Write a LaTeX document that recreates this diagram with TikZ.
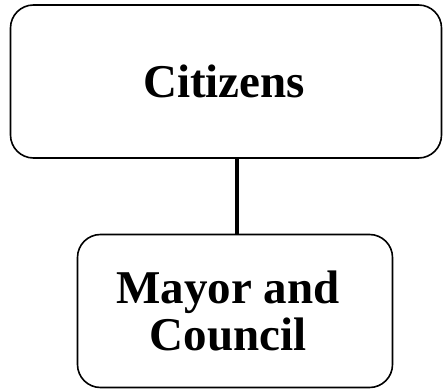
\documentclass[tikz,border=0pt]{standalone}
\usepackage{fontspec}
\setmainfont{Liberation Serif}
\begin{document}
\begin{tikzpicture}[x=1pt,y=1pt,
  box/.style={draw=black, line width=1.6pt, rounded corners=23pt, inner sep=0pt,
    minimum width=#1},
  boxtext/.style={font=\fontsize{47}{47}\selectfont\bfseries, align=center, inner sep=0pt},
  link/.style={draw=black, line width=4pt}]
  \useasboundingbox (0,0) rectangle (443,391);
  % upper box
  \node[box=431pt, minimum height=153pt] (citizens) at (226,309.5) {};
  \node[boxtext] (citizenslabel) at (224,309.5) {Citizens};
  % lower box
  \node[box=315pt, minimum height=153pt] (mayor) at (235,80) {};
  \node[boxtext] (mayorlabel) at (228,80) {Mayor and\\Council};
  % vertical link between the boxes
  \coordinate (axis) at (237,0);
  \draw[link] (citizens.south -| axis) -- (mayor.north -| axis);
\end{tikzpicture}
\end{document}
